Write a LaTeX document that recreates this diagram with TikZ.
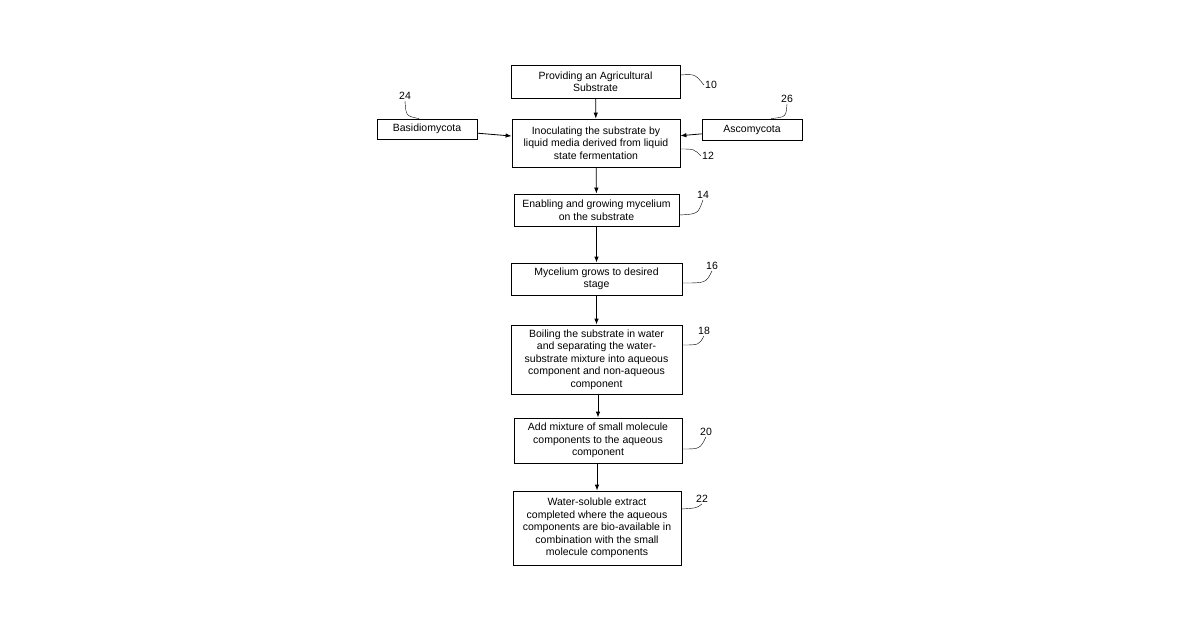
\documentclass[tikz,border=0pt]{standalone}
\usepackage{fontspec}
\setmainfont{Liberation Sans}
\usetikzlibrary{arrows.meta}
\tikzset{
  procbox/.style={draw, thick, align=center, inner sep=0pt, font=\fontsize{10.5}{12.5}\selectfont},
  flow/.style={-{Latex[length=6pt,width=4.5pt]}, thick},
  tag/.style={font=\fontsize{10.5}{12}\selectfont, inner sep=1pt},
}
\begin{document}
\begin{tikzpicture}[x=1pt,y=-1pt]
            \useasboundingbox (0,0) rectangle (1200,630);
            % process steps
            \node [procbox, minimum width=169, minimum height=33] (prov) at (595.5,81.5) {Providing an Agricultural\\Substrate};
            \node [procbox, minimum width=168, minimum height=48] (inoc) at (596,143) {Inoculating the substrate by\\liquid media derived from liquid\\state fermentation};
            \node [procbox, minimum width=100, minimum height=20] (basid) at (427,129) {Basidiomycota};
            \node [procbox, minimum width=100, minimum height=21] (ascom) at (752,129.5) {Ascomycota};
            \node [procbox, minimum width=165, minimum height=32] (grow) at (596.5,210) {Enabling and growing mycelium\\on the substrate};
            \node [procbox, minimum width=171, minimum height=32] (stage) at (596.5,279) {Mycelium grows to desired\\stage};
            \node [procbox, minimum width=171, minimum height=69] (boil) at (596.5,359.5) {Boiling the substrate in water\\and separating the water-\\substrate mixture into aqueous\\component and non-aqueous\\component};
            \node [procbox, minimum width=168, minimum height=45] (add) at (598,440.5) {Add mixture of small molecule\\components to the aqueous\\component};
            \node [procbox, minimum width=168, minimum height=74] (extr) at (597,528) {Water-soluble extract\\completed where the aqueous\\components are bio-available in\\combination with the small\\molecule components};
            % connectors
            \draw [flow] (prov) -- (inoc);
            \draw [flow] (basid) -- (inoc);
            \draw [flow] (ascom) -- (inoc);
            \draw [flow] (inoc) -- (grow);
            \draw [flow] (grow) -- (stage);
            \draw [flow] (stage) -- (boil);
            \draw [flow] (boil.south -| add.north) -- (add);
            \draw [flow] (add.south -| extr.north) -- (extr);
            % reference numerals
            \node [tag] (n10) at (711,85) {10};
            \node [tag] (n12) at (708,156) {12};
            \node [tag] (n14) at (703,195) {14};
            \node [tag] (n16) at (712,266) {16};
            \node [tag] (n18) at (704,331) {18};
            \node [tag] (n20) at (706,432) {20};
            \node [tag] (n22) at (702,499) {22};
            \node [tag] (n24) at (405,96) {24};
            \node [tag] (n26) at (787,99) {26};
            \draw (prov.east |- 0,75) .. controls (695,74) .. (n10.west);
            \draw (inoc.east |- 0,149) .. controls (694,149) .. (n12.west);
            \draw (grow.east |- 0,215) .. controls (698,214) .. (n14.south);
            \draw (stage.east |- 0,283) .. controls (706,283) .. (n16.south);
            \draw (boil.east |- 0,345) .. controls (699,345) .. (n18.south);
            \draw (add.east |- 0,449) .. controls (700,449) .. (n20.south);
            \draw (extr.east |- 0,509) .. controls (697,508) .. (n22.south);
            \draw (n24.south) .. controls (406,116) .. (basid.north -| 419,0);
            \draw (n26.south) .. controls (786,117) .. (ascom.north -| 771,0);
\end{tikzpicture}
\end{document}
